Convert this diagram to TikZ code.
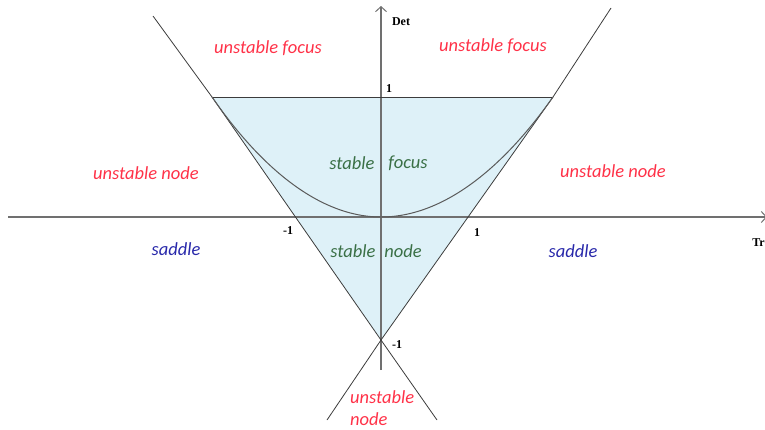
\documentclass[tikz,border=0pt]{standalone}
\usepackage{fontspec}
\setmainfont{Carlito}
\newfontfamily\axfont{Liberation Serif}
\usetikzlibrary{arrows.meta}
\definecolor{fillblue}{RGB}{222,241,248}
\definecolor{unst}{RGB}{255,50,72}
\definecolor{stab}{RGB}{58,112,70}
\definecolor{sadd}{RGB}{40,40,170}
\definecolor{axisgray}{RGB}{112,112,112}
\definecolor{edgegray}{RGB}{60,60,60}
\begin{document}
\begin{tikzpicture}[x=1pt,y=-1pt,
  region/.style={font=\itshape\fontsize{18.5}{21}\selectfont, inner sep=0pt},
  unstable/.style={region, text=unst},
  stable/.style={region, text=stab},
  saddlelbl/.style={region, text=sadd},
  axlabel/.style={font=\axfont\bfseries\fontsize{12}{14}\selectfont, inner sep=0pt},
  axisline/.style={draw=axisgray, line width=1.6pt, -{Straight Barb[length=5pt,width=11pt,line width=1pt]}},
  edge/.style={draw=edgegray, line width=0.8pt},
  curve/.style={draw=axisgray!80!black, line width=1pt}]
\useasboundingbox (0,0) rectangle (765,429);
% key points
\coordinate (TL) at (212,97);
\coordinate (TR) at (553,97);
\coordinate (B) at (381,340);
\coordinate (V) at (381,217);
\coordinate (LTop) at (153,16);
\coordinate (RTop) at (611,8);
\coordinate (LBot) at (327,420);
\coordinate (RBot) at (437,420);
\coordinate (XL) at (8,217);
\coordinate (XR) at (767,217);
\coordinate (YB) at (381,370);
\coordinate (YT) at (381,6);
% triangle fill
\fill[fillblue] (TL) -- (TR) -- (B) -- cycle;
% axes
\draw[axisline] (XL) -- (XR);
\draw[axisline] (YB) -- (YT);
% triangle edges and extended lines
\draw[edge] (TL) -- (TR);
\draw[edge] (LTop) -- (TL) -- (B) -- (RBot);
\draw[edge] (RTop) -- (TR) -- (B) -- (LBot);
% parabola
\draw[curve] (TL) parabola bend (V) (TR);
% axis labels
\node[axlabel] (det) at (401,22) {Det};
\node[axlabel, anchor=east] (tr) at (765,243) {Tr};
\node[axlabel] (one1) at (389,89) {1};
\node[axlabel] (m1y) at (397,345) {-1};
\node[axlabel] (m1x) at (288,231) {-1};
\node[axlabel] (one2) at (477,233) {1};
% region labels
\node[unstable] (uf1) at (268,48) {unstable focus};
\node[unstable] (uf2) at (493,46) {unstable focus};
\node[unstable] (un1) at (146,173) {unstable node};
\node[unstable] (un2) at (613,171) {unstable node};
\node[saddlelbl] (s1) at (176,249) {saddle};
\node[saddlelbl] (s2) at (573,251) {saddle};
\node[stable] (sf1) at (352,163) {stable};
\node[stable] (sf2) at (408,163) {focus};
\node[stable] (sn1) at (353,251) {stable};
\node[stable] (sn2) at (403,251) {node};
\node[unstable, anchor=west] (un3a) at (350,397) {unstable};
\node[unstable, anchor=west] (un3b) at (350,419) {node};
\end{tikzpicture}
\end{document}
